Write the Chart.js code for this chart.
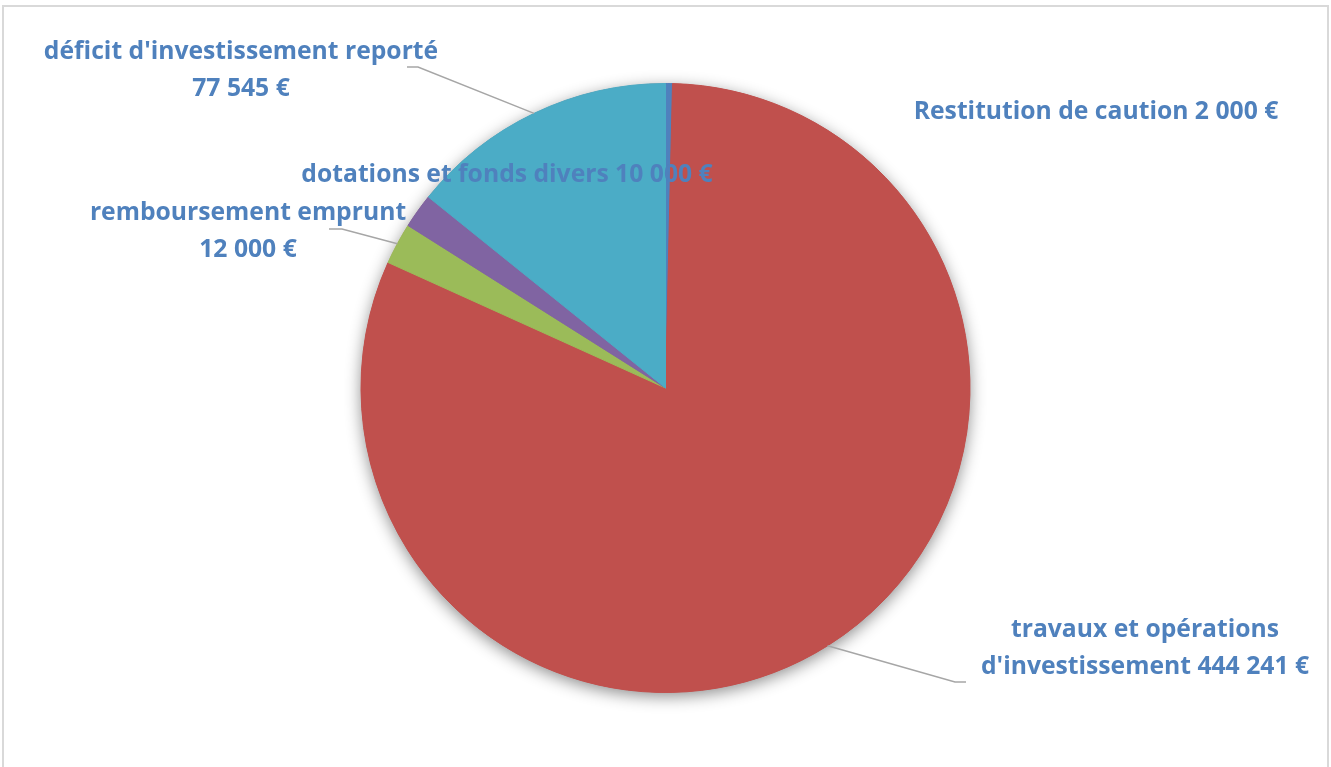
<!DOCTYPE html>
<html>
<head>
<meta charset="utf-8">
<script src="https://cdn.jsdelivr.net/npm/chart.js@4.4.1/dist/chart.umd.min.js"></script>
<style>
  body { margin: 0; background: #fff; }
</style>
</head>
<body>
<canvas id="myChartInvest" width="1331" height="767"></canvas>
<script>
Chart.defaults.font.family = "'Open Sans', 'Liberation Sans', sans-serif";

// données
const postes = [
  'Restitution de caution',
  "travaux et opérations d'investissement",
  'remboursement emprunt',
  'dotations et fonds divers',
  "déficit d'investissement reporté"
];
const montants = [2000, 444241, 12000, 10000, 77545];
const couleurs = ['#4F81BD', '#C0504D', '#9BBB59', '#8064A2', '#4BACC6'];

// mise en page des étiquettes (centre du texte, coupure de ligne, trait de rappel)
const etiquettes = [
  { x: 1096, y: 112, coupure: 0 },
  { x: 1145, y: 630, coupure: 3, coude: [955, 682], fin: [966, 682] },
  { x: 248, y: 213, coupure: 2, coude: [342, 229], fin: [329, 229] },
  { x: 507, y: 175, coupure: 0 },
  { x: 241, y: 52, coupure: 3, coude: [418, 67], fin: [407, 67] }
];

const formatEuro = v => String(v).replace(/\B(?=(\d{3})+(?!\d))/g, ' ') + ' €';

//* cadre gris autour du graphique
const cadre = {
  id: 'cadre',
  beforeDraw(chart) {
    const c = chart.ctx;
    c.save();
    c.strokeStyle = '#D9D9D9';
    c.lineWidth = 2;
    c.strokeRect(3, 6, 1325, 800);
    c.restore();
  }
};

//* ombre douce sous le camembert
const ombre = {
  id: 'ombre',
  beforeDatasetsDraw(chart) {
    const arc = chart.getDatasetMeta(0).data[0];
    if (!arc) return;
    const c = chart.ctx;
    c.save();
    c.shadowColor = 'rgba(0,0,0,0.45)';
    c.shadowBlur = 16;
    c.shadowOffsetY = 4;
    c.fillStyle = '#C0504D';
    c.beginPath();
    c.arc(arc.x, arc.y, arc.outerRadius, 0, Math.PI * 2);
    c.fill();
    c.restore();
  }
};

//* étiquettes de données avec traits de rappel
const etiquettesPlugin = {
  id: 'etiquettes',
  afterDatasetsDraw(chart) {
    const c = chart.ctx;
    const meta = chart.getDatasetMeta(0);
    c.save();
    meta.data.forEach((arc, i) => {
      const lay = etiquettes[i];
      if (lay.coude) {
        const a = (arc.startAngle + arc.endAngle) / 2;
        c.strokeStyle = '#A6A6A6';
        c.lineWidth = 1.5;
        c.beginPath();
        c.moveTo(arc.x + Math.cos(a) * arc.outerRadius, arc.y + Math.sin(a) * arc.outerRadius);
        c.lineTo(lay.coude[0], lay.coude[1]);
        c.lineTo(lay.fin[0], lay.fin[1]);
        c.stroke();
      }
      const mots = (postes[i] + ' ' + formatEuro(montants[i])).split(' ');
      const lignes = lay.coupure
        ? [mots.slice(0, lay.coupure).join(' '), mots.slice(lay.coupure).join(' ')]
        : [mots.join(' ')];
      c.fillStyle = '#4F81BD';
      c.font = "bold 24.7px 'Open Sans', 'Liberation Sans', sans-serif";
      c.textAlign = 'center';
      c.textBaseline = 'middle';
      lignes.forEach((l, k) => c.fillText(l, lay.x, lay.y + k * 37));
    });
    c.restore();
  }
};

const ctxInvest = document.getElementById('myChartInvest');

const myChartInvest = new Chart(ctxInvest, {
  type: 'pie',
  data: {
    labels: postes,
    datasets: [{
      data: montants,
      backgroundColor: couleurs,
      borderColor: couleurs,
      borderWidth: 1
    }]
  },
  options: {
    responsive: false,
    animation: false,
    layout: { padding: { top: 83, bottom: 74, left: 0, right: 0 } },
    plugins: {
      legend: { display: false },
      tooltip: { enabled: false }
    }
  },
  plugins: [cadre, ombre, etiquettesPlugin]
});
</script>
</body>
</html>
